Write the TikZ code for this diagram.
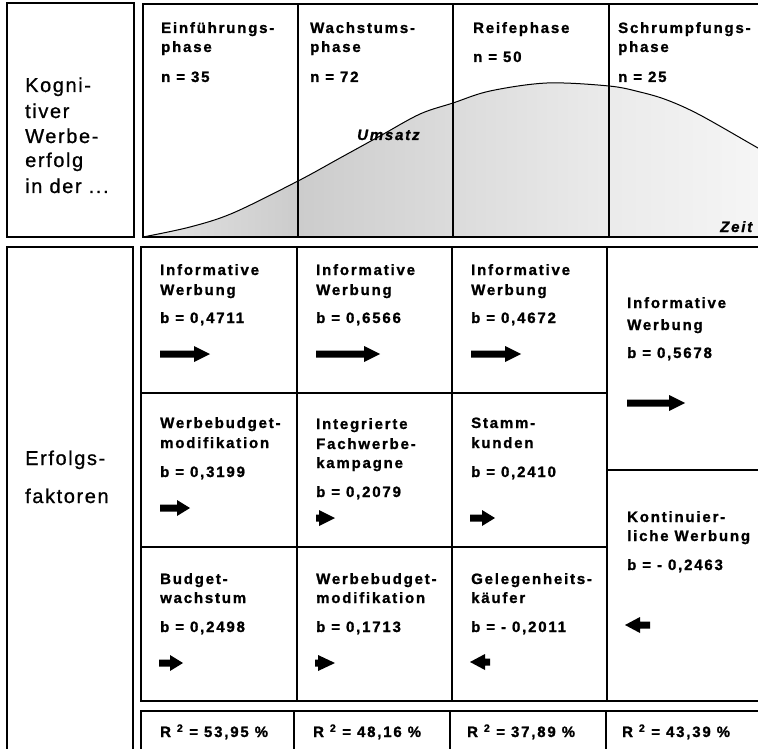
\documentclass[tikz,border=0pt]{standalone}
\usepackage{fontspec}
\setmainfont{Liberation Sans}[LetterSpace=12, BoldFeatures={FakeBold=1.2}, BoldItalicFeatures={FakeBold=1.2}]
\newfontfamily\labfont{Liberation Sans}[LetterSpace=8, FakeBold=0.9]
\newcommand\rarrow[4][16]{% [head length]{x0}{x1}{y}
  \fill[black] (#2,{#4-3.5}) -- ({#3-#1},{#4-3.5}) -- ({#3-#1},{#4-8}) -- (#3,#4)
    -- ({#3-#1},{#4+8}) -- ({#3-#1},{#4+3.5}) -- (#2,{#4+3.5}) -- cycle;}
\newcommand\larrow[4][16]{% [head length]{x0}{x1}{y}, tip at x0
  \fill[black] (#3,{#4-3.5}) -- ({#2+#1},{#4-3.5}) -- ({#2+#1},{#4-8}) -- (#2,#4)
    -- ({#2+#1},{#4+8}) -- ({#2+#1},{#4+3.5}) -- (#3,{#4+3.5}) -- cycle;}
\begin{document}
\begin{tikzpicture}[x=1pt,y=-1pt,
  frame/.style={draw=black, line width=1.2pt},
  lab/.style={anchor=base west, inner sep=0, font=\labfont\fontsize{20}{22}\selectfont},
  txt/.style={anchor=base west, inner sep=0, font=\bfseries\fontsize{15}{17}\selectfont},
  itx/.style={anchor=base west, inner sep=0, font=\bfseries\itshape\fontsize{15}{17}\selectfont}]
\clip (0,0) rectangle (758,749);
\fill[white] (0,0) rectangle (758,749);

% ---- area under the sales curve
\begin{scope}
\clip plot[smooth, tension=0.55] coordinates {(143,237) (190,227) (233,213) (298,181) (340,158) (380,136) (420,114) (453,103) (490,91) (547,83) (609,86) (640,92) (667,100) (700,115) (758,148) (790,166)} -- (790,237) -- cycle;
\shade[left color=gray!22, right color=gray!40] (143,0) rectangle (298,237);
\shade[left color=gray!40, right color=gray!28] (298,0) rectangle (453,237);
\shade[left color=gray!28, right color=gray!16] (453,0) rectangle (609,237);
\shade[left color=gray!16, right color=gray!6] (609,0) rectangle (790,237);
\end{scope}
\draw[line width=1pt] plot[smooth, tension=0.55] coordinates {(143,237) (190,227) (233,213) (298,181) (340,158) (380,136) (420,114) (453,103) (490,91) (547,83) (609,86) (640,92) (667,100) (700,115) (758,148) (790,166)};

% ---- frames top
\draw[frame] (7,3) rectangle (134,237);
\draw[frame] (143,4) rectangle (800,237);
\draw[frame] (298,4) -- (298,237);
\draw[frame] (453,4) -- (453,237);
\draw[frame] (609,4) -- (609,237);

% ---- frames bottom
\draw[frame] (7,247) rectangle (133,800);
\draw[frame] (141,247) rectangle (800,701);
\draw[frame] (297,247) -- (297,701);
\draw[frame] (452,247) -- (452,701);
\draw[frame] (607,247) -- (607,701);
\draw[frame] (141,393) -- (607,393);
\draw[frame] (141,547) -- (607,547);
\draw[frame] (607,470) -- (800,470);
\draw[frame] (141,711) rectangle (800,800);
\draw[frame] (294,711) -- (294,800);
\draw[frame] (450,711) -- (450,800);
\draw[frame] (606,711) -- (606,800);

% ---- left labels
\node[lab] (k1) at (25,92) {Kogni-};
\node[lab] (k2) at (25,118) {tiver};
\node[lab] (k3) at (25,143) {Werbe-};
\node[lab] (k4) at (25,167) {erfolg};
\node[lab] (k5) at (25,193) {in der ...};
\node[lab] (e1) at (25,465) {Erfolgs-};
\node[lab] (e2) at (25,503) {faktoren};

% ---- phase headers
\node[txt] (p1a) at (161,33) {Einführungs-};
\node[txt] (p1b) at (161,52) {phase};
\node[txt] (p1n) at (161,82) {n = 35};
\node[txt] (p2a) at (310,33) {Wachstums-};
\node[txt] (p2b) at (310,52) {phase};
\node[txt] (p2n) at (310,82) {n = 72};
\node[txt] (p3a) at (473,33) {Reifephase};
\node[txt] (p3n) at (473,62) {n = 50};
\node[txt] (p4a) at (618,33) {Schrumpfungs-};
\node[txt] (p4b) at (618,52) {phase};
\node[txt] (p4n) at (618,82) {n = 25};
\node[itx] (ums) at (357,140) {Umsatz};
\node[itx] (zeit) at (720,232) {Zeit};

% ---- row 1
\node[txt] (a1) at (160,275) {Informative};
\node[txt] (a2) at (160,295) {Werbung};
\node[txt] (a3) at (160,323) {b = 0,4711};
\rarrow{160}{210}{354}
\node[txt] (b1) at (316,275) {Informative};
\node[txt] (b2) at (316,295) {Werbung};
\node[txt] (b3) at (316,323) {b = 0,6566};
\rarrow{316}{380}{354}
\node[txt] (c1) at (471,275) {Informative};
\node[txt] (c2) at (471,295) {Werbung};
\node[txt] (c3) at (471,323) {b = 0,4672};
\rarrow{471}{521}{354}
\node[txt] (d1) at (627,308) {Informative};
\node[txt] (d2) at (627,330) {Werbung};
\node[txt] (d3) at (627,358) {b = 0,5678};
\rarrow{627}{685}{403}

% ---- row 2
\node[txt] (f1) at (160,428) {Werbebudget-};
\node[txt] (f2) at (160,448) {modifikation};
\node[txt] (f3) at (160,477) {b = 0,3199};
\rarrow[13]{160}{190}{508}
\node[txt] (g1) at (316,429) {Integrierte};
\node[txt] (g2) at (316,449) {Fachwerbe-};
\node[txt] (g3) at (316,468) {kampagne};
\node[txt] (g4) at (316,497) {b = 0,2079};
\rarrow[16]{316}{335}{518}
\node[txt] (h1) at (471,428) {Stamm-};
\node[txt] (h2) at (471,448) {kunden};
\node[txt] (h3) at (471,477) {b = 0,2410};
\rarrow[13]{470}{495}{518}
\node[txt] (i1) at (627,522) {Kontinuier-};
\node[txt] (i2) at (627,541) {liche Werbung};
\node[txt] (i3) at (627,570) {b = - 0,2463};
\larrow[15]{625}{650}{625}

% ---- row 3
\node[txt] (j1) at (160,584) {Budget-};
\node[txt] (j2) at (160,603) {wachstum};
\node[txt] (j3) at (160,632) {b = 0,2498};
\rarrow[13]{159}{183}{663}
\node[txt] (m1) at (316,584) {Werbebudget-};
\node[txt] (m2) at (316,603) {modifikation};
\node[txt] (m3) at (316,632) {b = 0,1713};
\rarrow[17]{315}{335}{663}
\node[txt] (o1) at (471,584) {Gelegenheits-};
\node[txt] (o2) at (471,603) {käufer};
\node[txt] (o3) at (471,632) {b = - 0,2011};
\larrow[15]{470}{490}{662}

% ---- R^2 row
\node[txt] (r1) at (160,737) {R \textsuperscript{2} = 53,95 \%};
\node[txt] (r2) at (313,737) {R \textsuperscript{2} = 48,16 \%};
\node[txt] (r3) at (467,737) {R \textsuperscript{2} = 37,89 \%};
\node[txt] (r4) at (622,737) {R \textsuperscript{2} = 43,39 \%};
\end{tikzpicture}
\end{document}
